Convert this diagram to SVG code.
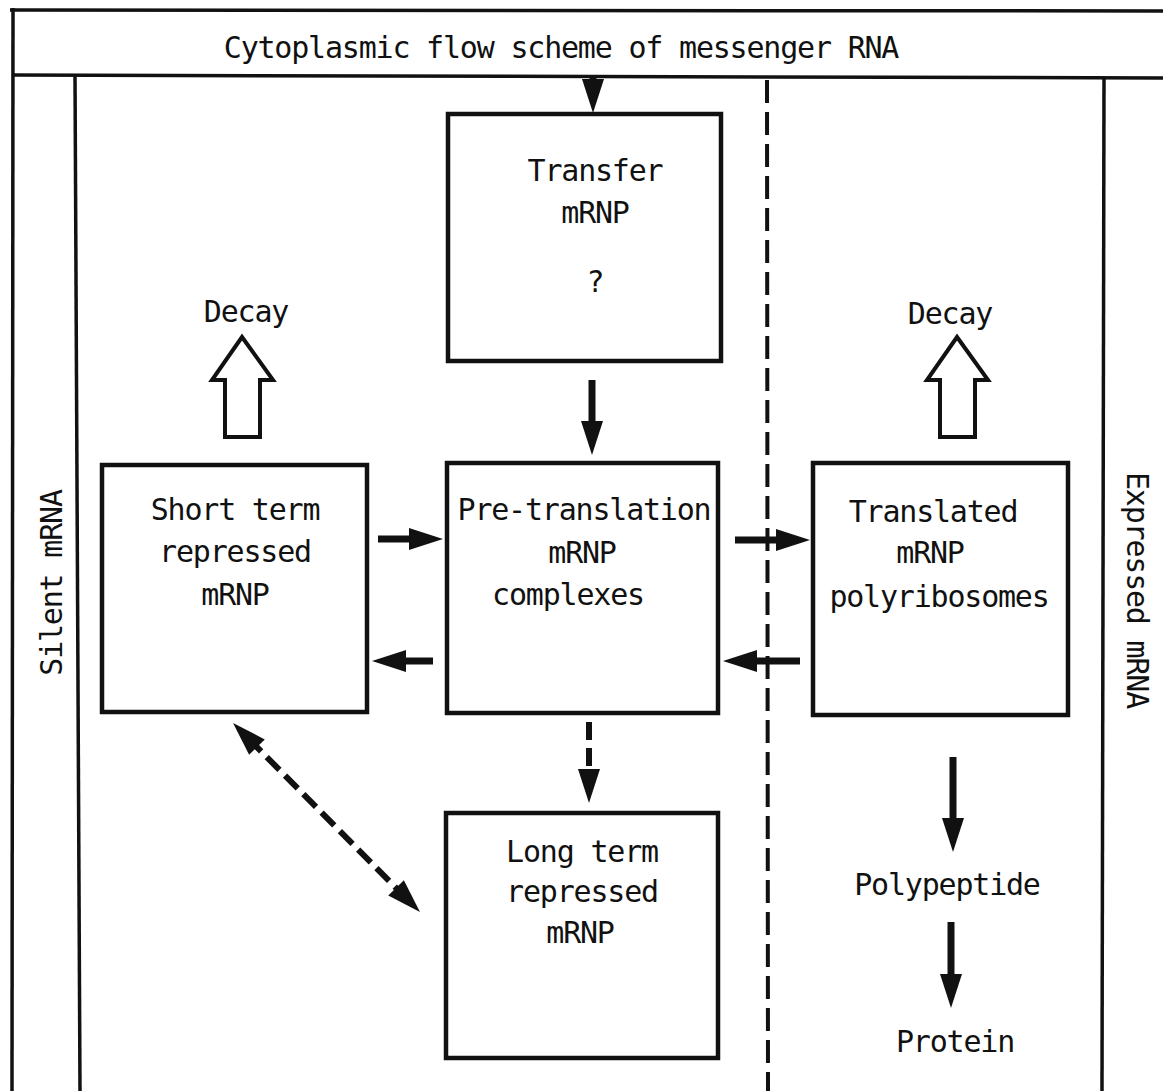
<svg xmlns="http://www.w3.org/2000/svg" width="1163" height="1091" viewBox="0 0 1163 1091">
<defs>
<style>
.t{font-family:"DejaVu Sans Mono","Liberation Mono",monospace;font-size:30px;letter-spacing:-1.2px;fill:#111;text-anchor:middle}
.box{fill:#fff;stroke:#111;stroke-width:4.5}
.frame{fill:none;stroke:#111;stroke-width:3.5}
.sh{stroke:#111;stroke-width:7;fill:none}
.dsh{stroke:#111;stroke-width:6;fill:none;stroke-dasharray:18 8}
.hol{fill:#fff;stroke:#111;stroke-width:4;stroke-linejoin:miter}
</style>
<marker id="ah" markerUnits="userSpaceOnUse" markerWidth="36" markerHeight="24" refX="12" refY="11" orient="auto-start-reverse" overflow="visible">
<path d="M0,0 L34,11 L0,22 Z" fill="#111"/>
</marker>
</defs>
<rect width="1163" height="1091" fill="#fff"/>
<g id="frame">
<line class="frame" x1="10" y1="10" x2="1163" y2="11"/>
<line class="frame" x1="13" y1="8" x2="12" y2="1091"/>
<line class="frame" x1="12" y1="75" x2="1163" y2="78"/>
<line class="frame" x1="75" y1="75" x2="80" y2="1091"/>
<line class="frame" x1="1104" y1="78" x2="1102" y2="1091"/>
<line stroke="#111" stroke-width="4" stroke-dasharray="23 9" x1="767" y1="80" x2="768" y2="1091"/>
<text class="t" x="561" y="58">Cytoplasmic flow scheme of messenger RNA</text>
<text class="t" transform="translate(62,583) rotate(-90)">Silent mRNA</text>
<text class="t" transform="translate(1127,590) rotate(90)">Expressed mRNA</text>
</g>
<g id="transfer">
<rect class="box" x="448" y="114" width="273" height="247"/>
<text class="t" x="595" y="181">Transfer</text>
<text class="t" x="595" y="223">mRNP</text>
<text class="t" x="595" y="292">?</text>
</g>
<g id="pretranslation">
<rect class="box" x="447" y="463" width="271" height="250"/>
<text class="t" x="584" y="520">Pre-translation</text>
<text class="t" x="582" y="563">mRNP</text>
<text class="t" x="568" y="605">complexes</text>
</g>
<g id="shortterm">
<rect class="box" x="102" y="465" width="265" height="247"/>
<text class="t" x="235" y="520">Short term</text>
<text class="t" x="235" y="562">repressed</text>
<text class="t" x="235" y="605">mRNP</text>
</g>
<g id="translated">
<rect class="box" x="813" y="463" width="255" height="252"/>
<text class="t" x="933" y="522">Translated</text>
<text class="t" x="930" y="563">mRNP</text>
<text class="t" x="939" y="607">polyribosomes</text>
</g>
<g id="longterm">
<rect class="box" x="446" y="813" width="272" height="245"/>
<text class="t" x="582" y="862">Long term</text>
<text class="t" x="582" y="902">repressed</text>
<text class="t" x="580" y="943">mRNP</text>
</g>
<g id="decay-left">
<polygon class="hol" points="242,337 273,380 260,380 260,437 225,437 225,380 212,380"/>
<text class="t" x="246" y="322">Decay</text>
</g>
<g id="decay-right">
<polygon class="hol" points="957,337 988,380 975,380 975,437 940,437 940,380 927,380"/>
<text class="t" x="950" y="324">Decay</text>
</g>
<g id="polypeptide">
<text class="t" x="947" y="895">Polypeptide</text>
</g>
<g id="protein">
<text class="t" x="955" y="1052">Protein</text>
</g>
<g id="connectors">
<line class="sh" x1="593" y1="76" x2="593" y2="91" marker-end="url(#ah)"/>
<line class="sh" x1="592" y1="380" x2="592" y2="433" marker-end="url(#ah)"/>
<line class="sh" x1="378" y1="539" x2="421" y2="539" marker-end="url(#ah)"/>
<line class="sh" x1="433" y1="661" x2="394" y2="661" marker-end="url(#ah)"/>
<line class="sh" x1="735" y1="540" x2="788" y2="540" marker-end="url(#ah)"/>
<line class="sh" x1="800" y1="661" x2="745" y2="661" marker-end="url(#ah)"/>
<line class="sh" x1="953" y1="757" x2="953" y2="830" marker-end="url(#ah)"/>
<line class="sh" x1="951" y1="922" x2="951" y2="986" marker-end="url(#ah)"/>
<line class="dsh" x1="589" y1="722" x2="589" y2="781" marker-end="url(#ah)"/>
<line class="dsh" x1="248.5" y1="738.6" x2="404.5" y2="896.4" marker-start="url(#ah)" marker-end="url(#ah)"/>
</g>
</svg>
